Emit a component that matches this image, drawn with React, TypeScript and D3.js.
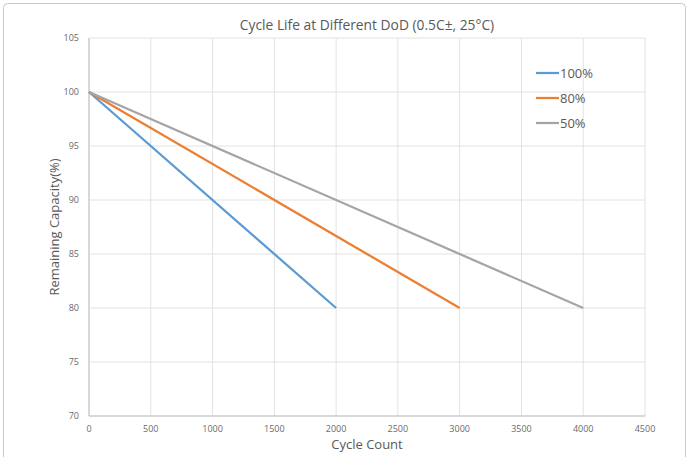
import React from "react";
import * as d3 from "d3";

const title = "Cycle Life at Different DoD (0.5C±, 25°C)";
const xTicks = [0, 500, 1000, 1500, 2000, 2500, 3000, 3500, 4000, 4500];
const yTicks = [70, 75, 80, 85, 90, 95, 100, 105];
const seriesNames = ["100%", "80%", "50%"];
const seriesColors = ["#5B9BD5", "#ED7D31", "#A5A5A5"];
const cycles100 = [0, 2000];
const capacity100 = [100, 80];
const cycles80 = [0, 3000];
const capacity80 = [100, 80];
const cycles50 = [0, 4000];
const capacity50 = [100, 80];

const W = 695, H = 457;
const left = 89, right = 645, top = 38, bottom = 416;
const font = "'Open Sans', 'Noto Sans', sans-serif";

export default function App() {
  const x = d3.scaleLinear().domain([0, 4500]).range([left, right]);
  const y = d3.scaleLinear().domain([70, 105]).range([bottom, top]);
  const series = [
    { xs: cycles100, ys: capacity100 },
    { xs: cycles80, ys: capacity80 },
    { xs: cycles50, ys: capacity50 },
  ];
  const line = d3.line<[number, number]>().x(d => x(d[0])).y(d => y(d[1]));
  return (
    <svg width={W} height={H} style={{ position: "absolute", left: 0, top: 0, fontFamily: font }}>
      <rect x={3.5} y={3.5} width={682} height={460} rx={4} fill="#fff" stroke="#C8C8C8" strokeWidth={1} />
      {xTicks.map(t => (
        <line key={"gx" + t} x1={x(t)} x2={x(t)} y1={top} y2={bottom} stroke="#E2E2E2" strokeWidth={1} />
      ))}
      {yTicks.map(t => (
        <line key={"gy" + t} x1={left} x2={right} y1={y(t)} y2={y(t)} stroke="#E2E2E2" strokeWidth={1} />
      ))}
      <line x1={left} x2={left} y1={top} y2={bottom} stroke="#BFBFBF" />
      <line x1={left} x2={right} y1={bottom} y2={bottom} stroke="#BFBFBF" />
      {xTicks.map(t => (
        <text key={"tx" + t} x={x(t)} y={bottom + 16} fontSize={9} fill="#6A6A6A" textAnchor="middle">{t}</text>
      ))}
      {yTicks.map(t => (
        <text key={"ty" + t} x={left - 10} y={y(t) + 3} fontSize={9} fill="#6A6A6A" textAnchor="end">{t}</text>
      ))}
      {series.map((s, i) => (
        <path key={"s" + i} d={line(s.xs.map((v, j) => [v, s.ys[j]] as [number, number])) || ""}
          fill="none" stroke={seriesColors[i]} strokeWidth={2.25} />
      ))}
      <text x={367} y={30} fontSize={13.8} fill="#595959" textAnchor="middle">{title}</text>
      <text x={367} y={449} fontSize={13} fill="#595959" textAnchor="middle">Cycle Count</text>
      <text transform={`translate(59, ${(top + bottom) / 2}) rotate(-90)`} fontSize={13} fill="#595959" textAnchor="middle">Remaining Capacity(%)</text>
      {seriesNames.map((n, i) => (
        <g key={"l" + i}>
          <line x1={536} x2={559} y1={73 + i * 25} y2={73 + i * 25} stroke={seriesColors[i]} strokeWidth={2.25} />
          <text x={560} y={78 + i * 25} fontSize={13} fill="#595959">{n}</text>
        </g>
      ))}
    </svg>
  );
}
